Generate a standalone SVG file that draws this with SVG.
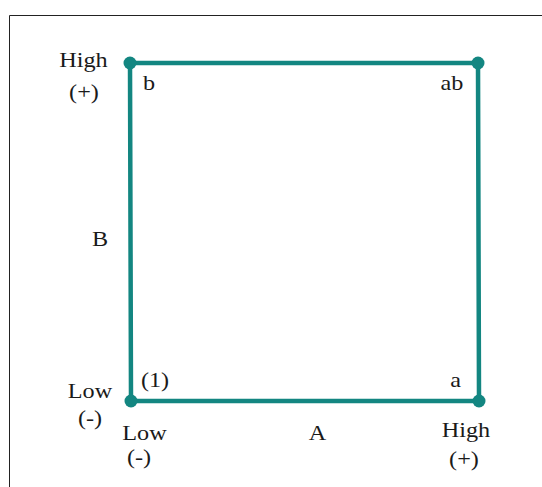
<svg xmlns="http://www.w3.org/2000/svg" width="542" height="487" viewBox="0 0 542 487">
<style>
.t{font-family:"Liberation Serif","Times New Roman",serif;font-size:22px;fill:#1a1a1a;text-anchor:middle}
.edge{stroke:#138681;stroke-width:4.5;fill:none;stroke-linecap:round}
.dot{fill:#138681}
</style>
<rect width="542" height="487" fill="#ffffff"/>
<path d="M9.5,487 V15.5 H542" fill="none" stroke="#222" stroke-width="1"/>
<g id="connectors">
<path class="edge" d="M130,63 L478,63"/>
<path class="edge" d="M478,63 L479,401"/>
<path class="edge" d="M131,401 L479,401"/>
<path class="edge" d="M130,63 L131,401"/>
</g>
<g id="node-b">
<circle class="dot" cx="130" cy="63" r="6.5"/>
<text class="t" transform="translate(149,90) scale(1.1,1)">b</text>
</g>
<g id="node-ab">
<circle class="dot" cx="478" cy="63" r="6.5"/>
<text class="t" transform="translate(452,90) scale(1.1,1)">ab</text>
</g>
<g id="node-1">
<circle class="dot" cx="131" cy="401" r="6.5"/>
<text class="t" transform="translate(155,387) scale(1.1,1)">(1)</text>
</g>
<g id="node-a">
<circle class="dot" cx="479" cy="401" r="6.5"/>
<text class="t" transform="translate(455.5,387) scale(1.1,1)">a</text>
</g>
<g id="labels">
<text class="t" transform="translate(83.5,67) scale(1.1,1)">High</text>
<text class="t" transform="translate(84,99) scale(1.1,1)">(+)</text>
<text class="t" transform="translate(100,246) scale(1.1,1)">B</text>
<text class="t" transform="translate(90,398) scale(1.1,1)">Low</text>
<text class="t" transform="translate(90,425) scale(1.1,1)">(-)</text>
<text class="t" transform="translate(144.5,440) scale(1.1,1)">Low</text>
<text class="t" transform="translate(139,464) scale(1.1,1)">(-)</text>
<text class="t" transform="translate(317.5,440) scale(1.1,1)">A</text>
<text class="t" transform="translate(466,437) scale(1.1,1)">High</text>
<text class="t" transform="translate(464,466) scale(1.1,1)">(+)</text>
</g>
</svg>
